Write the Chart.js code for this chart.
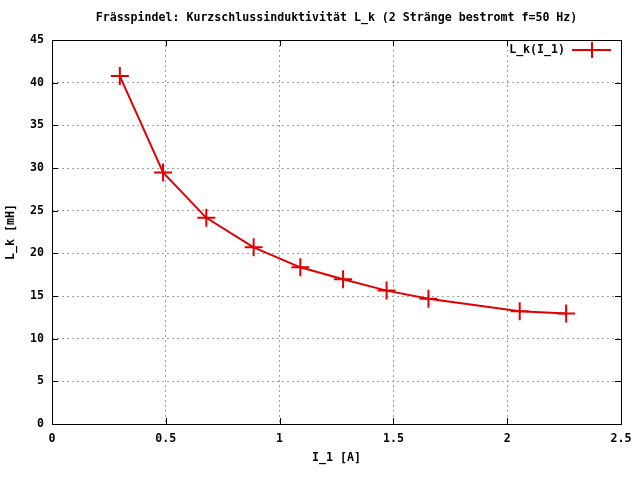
<!DOCTYPE html>
<html>
<head>
<meta charset="utf-8">
<script src="https://cdn.jsdelivr.net/npm/chart.js@4"></script>
<style>
  html, body { margin: 0; padding: 0; background: #fff; }
  #wrap { width: 640px; height: 480px; }
</style>
</head>
<body>
<div id="wrap"><canvas id="my-chart" width="640" height="480"></canvas></div>
<script>
// Strom I_1 [A] und Kurzschlussinduktivitaet L_k [mH]
const currents = [0.298, 0.488, 0.678, 0.886, 1.091, 1.279, 1.470, 1.654, 2.055, 2.259];
const inductances = [40.77, 29.47, 24.16, 20.7, 18.36, 16.96, 15.63, 14.69, 13.22, 12.94];
const seriesLabel = "L_k(I_1)";
const titleText = "Frässpindel: Kurzschlussinduktivität L_k (2 Stränge bestromt f=50 Hz)";
const xTicks = [0, 0.5, 1, 1.5, 2, 2.5];
const yTicks = [0, 5, 10, 15, 20, 25, 30, 35, 40, 45];

const red = "#e00000";
const font = { family: "'DejaVu Sans Mono', monospace", size: 11.6, weight: "bold" };
const fontStr = `${font.weight} ${font.size}px ${font.family}`;

// gnuplot-style frame, inner tick marks, title and legend
const framePlugin = {
  id: "frame",
  afterDraw(chart) {
    const { ctx, chartArea: a } = chart;
    const xs = chart.scales.x, ys = chart.scales.y;
    ctx.save();
    ctx.strokeStyle = "#000";
    ctx.lineWidth = 1;
    ctx.beginPath();
    xTicks.forEach(v => {
      const px = Math.round(xs.getPixelForValue(v)) + 0.5;
      ctx.moveTo(px, a.bottom); ctx.lineTo(px, a.bottom - 6);
      ctx.moveTo(px, a.top); ctx.lineTo(px, a.top + 6);
    });
    yTicks.forEach(v => {
      const py = Math.round(ys.getPixelForValue(v)) + 0.5;
      ctx.moveTo(a.left, py); ctx.lineTo(a.left + 6, py);
      ctx.moveTo(a.right, py); ctx.lineTo(a.right - 6, py);
    });
    ctx.stroke();
    ctx.strokeRect(a.left + 0.5, a.top + 0.5, a.right - a.left, a.bottom - a.top);

    ctx.font = fontStr;
    ctx.fillStyle = "#000";
    ctx.textBaseline = "middle";
    // title
    ctx.textAlign = "center";
    ctx.fillText(titleText, (a.left + a.right) / 2, 18);
    // legend
    ctx.textAlign = "right";
    const ly = a.top + 10;
    ctx.fillText(seriesLabel, a.right - 56, ly);
    ctx.strokeStyle = red;
    ctx.lineWidth = 2;
    ctx.beginPath();
    ctx.moveTo(a.right - 49, ly);
    ctx.lineTo(a.right - 10, ly);
    ctx.moveTo(a.right - 29, ly - 8);
    ctx.lineTo(a.right - 29, ly + 8);
    ctx.stroke();
    ctx.restore();
  }
};

const ctx = document.getElementById("my-chart").getContext("2d");
const chart = new Chart(ctx, {
  type: "scatter",
  data: {
    datasets: [
      {
        label: seriesLabel,
        data: currents.map((x, i) => ({ x: x, y: inductances[i] })),
        showLine: true,
        borderColor: red,
        backgroundColor: red,
        borderWidth: 2,
        pointStyle: "cross",
        pointRadius: 9,
        pointBorderWidth: 2,
        pointHoverRadius: 9,
        tension: 0
      }
    ]
  },
  options: {
    responsive: false,
    animation: false,
    layout: { padding: { top: 40, right: 19, left: 4, bottom: 15 } },
    plugins: {
      legend: { display: false },
      tooltip: { enabled: false },
      title: { display: false }
    },
    scales: {
      x: {
        type: "linear",
        min: 0,
        max: 2.5,
        afterBuildTicks: s => { s.ticks = xTicks.map(v => ({ value: v })); },
        ticks: { color: "#000", font: font, padding: 8, maxRotation: 0, callback: v => String(v) },
        grid: { color: "#a0a0a0", drawTicks: false, lineWidth: 1 },
        border: { display: false, dash: [2, 3] },
        title: { display: true, text: "I_1 [A]", color: "#000", font: font, padding: 0 },
        afterFit: s => { s.height = 41; }
      },
      y: {
        type: "linear",
        min: 0,
        max: 45,
        afterBuildTicks: s => { s.ticks = yTicks.map(v => ({ value: v })); },
        ticks: { color: "#000", font: font, padding: 8, callback: v => String(v) },
        grid: { color: "#a0a0a0", drawTicks: false, lineWidth: 1 },
        border: { display: false, dash: [2, 3] },
        title: { display: true, text: "L_k [mH]", color: "#000", font: font, padding: 0 },
        afterFit: s => { s.width = 48; }
      }
    }
  },
  plugins: [framePlugin]
});
</script>
</body>
</html>
